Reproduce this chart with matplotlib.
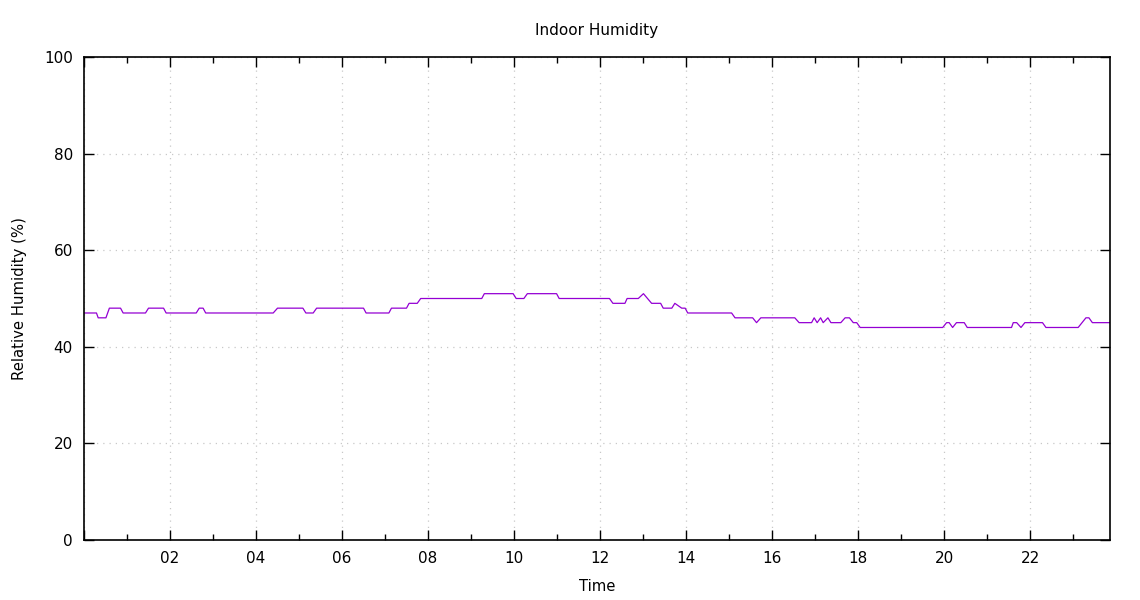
import matplotlib
matplotlib.use("Agg")
import matplotlib.pyplot as plt
from matplotlib.ticker import MultipleLocator, FuncFormatter

# hora del dia (h) y humedad relativa (%)
hours = [
    0.00, 0.29, 0.33, 0.51, 0.59, 0.85, 0.91, 1.43, 1.50, 1.85, 1.91,
    2.61, 2.68, 2.77, 2.83, 4.40, 4.50, 5.09, 5.16, 5.33, 5.41,
    6.50, 6.56, 7.09, 7.15, 7.50, 7.56, 7.75, 7.83, 9.25, 9.31,
    9.98, 10.05, 10.23, 10.31, 10.99, 11.05,
    12.22, 12.30, 12.58, 12.63, 12.89, 13.01, 13.20, 13.41, 13.47,
    13.67, 13.74, 13.90, 13.98, 14.04, 15.06, 15.14, 15.55, 15.64, 15.74,
    16.53, 16.63, 16.92, 16.98, 17.05, 17.13, 17.19, 17.30, 17.37,
    17.60, 17.70, 17.80, 17.89, 17.97, 18.05,
    19.97, 20.06, 20.12, 20.20, 20.29, 20.47, 20.54,
    21.57, 21.61, 21.69, 21.79, 21.88, 22.29, 22.37,
    23.12, 23.30, 23.37, 23.45, 23.86,
]
humidity = [
    47, 47, 46, 46, 48, 48, 47, 47, 48, 48, 47,
    47, 48, 48, 47, 47, 48, 48, 47, 47, 48,
    48, 47, 47, 48, 48, 49, 49, 50, 50, 51,
    51, 50, 50, 51, 51, 50,
    50, 49, 49, 50, 50, 51, 49, 49, 48,
    48, 49, 48, 48, 47, 47, 46, 46, 45, 46,
    46, 45, 45, 46, 45, 46, 45, 46, 45,
    45, 46, 46, 45, 45, 44,
    44, 45, 45, 44, 45, 45, 44,
    44, 45, 45, 44, 45, 45, 44,
    44, 46, 46, 45, 45,
]

plt.rcParams["font.family"] = ["DejaVu Sans"]

fig = plt.figure(figsize=(11.4, 6.0), dpi=100)
ax = fig.add_axes([84 / 1140, 60 / 600, 1026 / 1140, 483 / 600])

ax.plot(hours, humidity, color="#9400D3", lw=0.9)

ax.set_xlim(0, 23.86)
ax.set_ylim(0, 100)
ax.xaxis.set_major_locator(MultipleLocator(2))
ax.xaxis.set_minor_locator(MultipleLocator(1))
ax.yaxis.set_major_locator(MultipleLocator(20))
ax.xaxis.set_major_formatter(FuncFormatter(lambda v, p: f"{int(v):02d}" if v > 0 else ""))

ax.tick_params(which="both", direction="in", top=True, right=True,
               labelsize=11, color="black", width=1)
ax.tick_params(which="major", length=7)
ax.tick_params(which="minor", length=4)
ax.tick_params(axis="x", pad=8)
ax.tick_params(axis="y", pad=8)

ax.grid(True, which="major", color="#c8c8c8", ls=(0, (1, 4)), lw=0.9)
for s in ax.spines.values():
    s.set_linewidth(1.2)

ax.set_title("Indoor Humidity", fontsize=11, pad=16)
ax.set_xlabel("Time", fontsize=10.7, labelpad=9)
ax.set_ylabel("Relative Humidity (%)", fontsize=10.7, labelpad=12)

fig.savefig("out.png", dpi=100)
